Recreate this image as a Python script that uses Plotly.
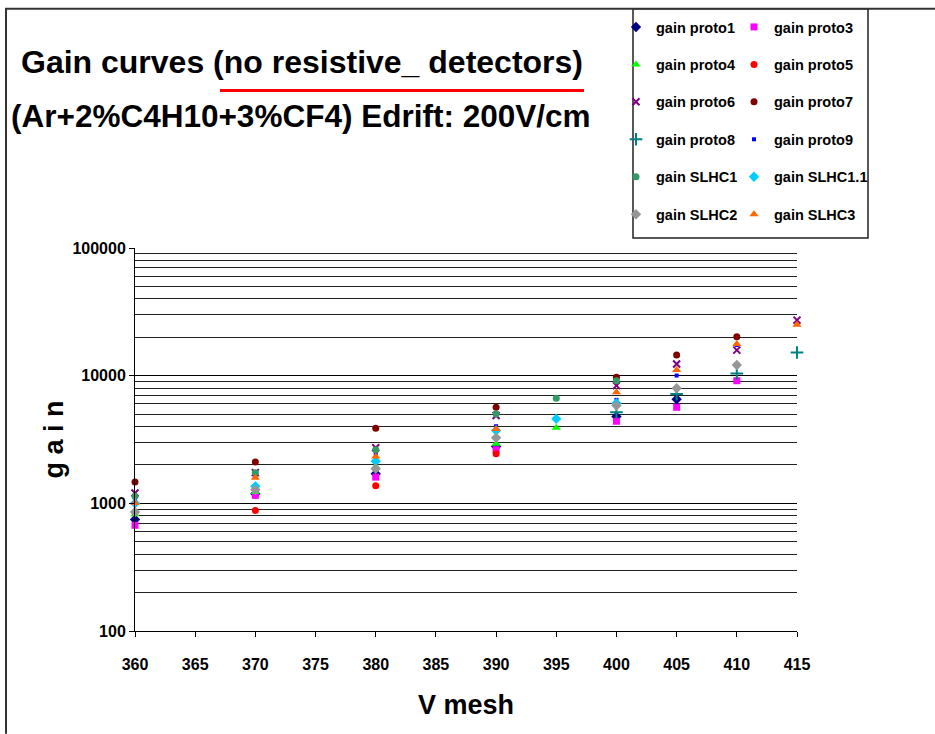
import plotly.graph_objects as go

# ---------------- data ----------------
V_MESH = [360, 370, 380, 390, 395, 400, 405, 410, 415]

gain_proto1 = [747, 1190, 1706, 2786, None, 4780, 6530, None, None]
gain_proto3 = [673, 1155, 1604, 2628, None, 4394, 5650, 9130, None]
gain_proto4 = [820, 1225, 1945, 2925, 3900, None, None, None, None]
gain_proto5 = [None, 877, 1374, 2443, None, None, None, None, None]
gain_proto6 = [1204, 1740, 2723, 4870, None, 8350, 12330, 15860, 27240]
gain_proto7 = [1467, 2103, 3873, 5665, None, 9700, 14490, 20190, None]
gain_proto8 = [None, None, None, None, None, 5165, 7190, 10420, 15200]
gain_proto9 = [1070, 1656, 2470, 4018, None, 6460, 10020, 17380, None]
gain_SLHC1 = [1135, 1738, 2625, 5010, 6650, 9140, None, None, None]
gain_SLHC1_1 = [1000, 1358, 2140, 3715, 4590, 6080, None, None, None]
gain_SLHC2 = [855, 1278, 1867, 3260, None, 5830, 7960, 12110, None]
gain_SLHC3 = [1004, 1586, 2330, 3830, None, 7410, 11070, 17700, 25000]

SERIES_NAMES = ["gain proto1", "gain proto3", "gain proto4", "gain proto5",
                "gain proto6", "gain proto7", "gain proto8", "gain proto9",
                "gain SLHC1", "gain SLHC1.1", "gain SLHC2", "gain SLHC3"]
SERIES_VALUES = [gain_proto1, gain_proto3, gain_proto4, gain_proto5,
                 gain_proto6, gain_proto7, gain_proto8, gain_proto9,
                 gain_SLHC1, gain_SLHC1_1, gain_SLHC2, gain_SLHC3]

X_TICKS = [360, 365, 370, 375, 380, 385, 390, 395, 400, 405, 410, 415]
Y_TICKS = [100, 1000, 10000, 100000]
Y_TICK_LABELS = ["100", "1000", "10000", "100000"]

TITLE_1 = "Gain curves (no resistive_ detectors)"
TITLE_2 = "(Ar+2%C4H10+3%CF4) Edrift: 200V/cm"
X_TITLE = "V mesh"
Y_TITLE = "g a i n"

# ---------------- styles ----------------
STYLES = {
    "gain proto1": dict(symbol="diamond", color="#000080", size=8),
    "gain proto3": dict(symbol="square", color="#FF00FF", size=7),
    "gain proto4": dict(symbol="triangle-up", color="#00FF00", size=8),
    "gain proto5": dict(symbol="circle", color="#FF0000", size=7),
    "gain proto6": dict(symbol="x-thin-open", color="#800080", size=7),
    "gain proto7": dict(symbol="circle", color="#800000", size=7),
    "gain proto8": dict(symbol="cross-thin-open", color="#008080", size=9),
    "gain proto9": dict(symbol="square", color="#0000FF", size=4),
    "gain SLHC1": dict(symbol="circle", color="#339966", size=7),
    "gain SLHC1.1": dict(symbol="diamond", color="#00CCFF", size=8),
    "gain SLHC2": dict(symbol="diamond", color="#969696", size=8),
    "gain SLHC3": dict(symbol="triangle-up", color="#FF6600", size=8),
}
LEFT_COL = ["gain proto1", "gain proto4", "gain proto6", "gain proto8", "gain SLHC1", "gain SLHC2"]

W, H = 935, 734
L, R, T, B = 135, 138, 247, 103
PW, PH = W - L - R, H - T - B


def px(xp):
    return (xp - L) / PW


def py(yp):
    return (H - B - yp) / PH


FONT = "Liberation Sans, Arial, sans-serif"


def bold(size):
    return dict(family=FONT, size=size, color="black", weight="bold")


fig = go.Figure()
for name, vals in zip(SERIES_NAMES, SERIES_VALUES):
    st = STYLES[name]
    line = dict(width=2, color=st["color"]) if "open" in st["symbol"] else dict(width=0)
    fig.add_trace(go.Scatter(
        x=V_MESH, y=vals, mode="markers", name=name,
        marker=dict(symbol=st["symbol"], color=st["color"], size=st["size"], line=line),
        cliponaxis=False,
        legend="legend" if name in LEFT_COL else "legend2",
        legendgroup=name,
    ))

minor_vals = [m * 10 ** k for k in range(2, 5) for m in range(2, 10)]

legend_common = dict(
    font=bold(14.5),
    bgcolor="rgba(0,0,0,0)", borderwidth=0,
    tracegroupgap=15.6, itemwidth=30,
    xanchor="left", yanchor="top", orientation="v",
)

fig.update_layout(
    width=W, height=H,
    margin=dict(l=L, r=R, t=T, b=B),
    paper_bgcolor="white", plot_bgcolor="white",
    font=dict(family=FONT, color="black"),
    title=dict(text=TITLE_1, x=302 / W, xanchor="center",
               y=1 - 62 / H, yanchor="middle", yref="container",
               font=bold(32)),
    showlegend=True,
    legend=dict(x=px(616), y=py(11), **legend_common),
    legend2=dict(x=px(734), y=py(11), **legend_common),
    xaxis=dict(
        range=[360, 415], tickvals=X_TICKS, ticks="outside", ticklen=5,
        tickcolor="black", showline=True, linecolor="black", linewidth=1,
        showgrid=False, zeroline=False,
        tickfont=bold(16), ticklabelstandoff=14,
        title=dict(text=X_TITLE, standoff=22, font=bold(27)),
    ),
    yaxis=dict(
        type="log", range=[2, 5], tickvals=Y_TICKS, ticktext=Y_TICK_LABELS,
        ticks="outside", ticklen=5, tickcolor="black",
        showline=True, linecolor="black", linewidth=1,
        showgrid=True, gridcolor="black", gridwidth=1, zeroline=False,
        tickfont=bold(16),
        minor=dict(tickvals=minor_vals, showgrid=True, gridcolor="#222222",
                   gridwidth=1, ticks=""),
        title=dict(text=Y_TITLE, standoff=0, font=bold(27)),
    ),
)

fig.add_annotation(text=TITLE_2, xref="paper", yref="paper",
                   x=px(300), y=py(115), xanchor="center", yanchor="middle",
                   showarrow=False, font=bold(31.5))

# red underline
fig.add_shape(type="line", xref="paper", yref="paper",
              x0=px(220), x1=px(584), y0=py(89), y1=py(89),
              line=dict(color="#FF0000", width=3))
# legend box
fig.add_shape(type="rect", xref="paper", yref="paper",
              x0=px(633), x1=px(868), y0=py(237), y1=py(7),
              line=dict(color="#222222", width=1.5), fillcolor="rgba(0,0,0,0)")
# outer chart-area frame (top and left edges)
fig.add_shape(type="line", xref="paper", yref="paper",
              x0=px(5), x1=px(935), y0=py(7), y1=py(7),
              line=dict(color="#333333", width=2))
fig.add_shape(type="line", xref="paper", yref="paper",
              x0=px(6), x1=px(6), y0=py(7), y1=py(734),
              line=dict(color="#333333", width=2))

fig.write_html("out.html")
